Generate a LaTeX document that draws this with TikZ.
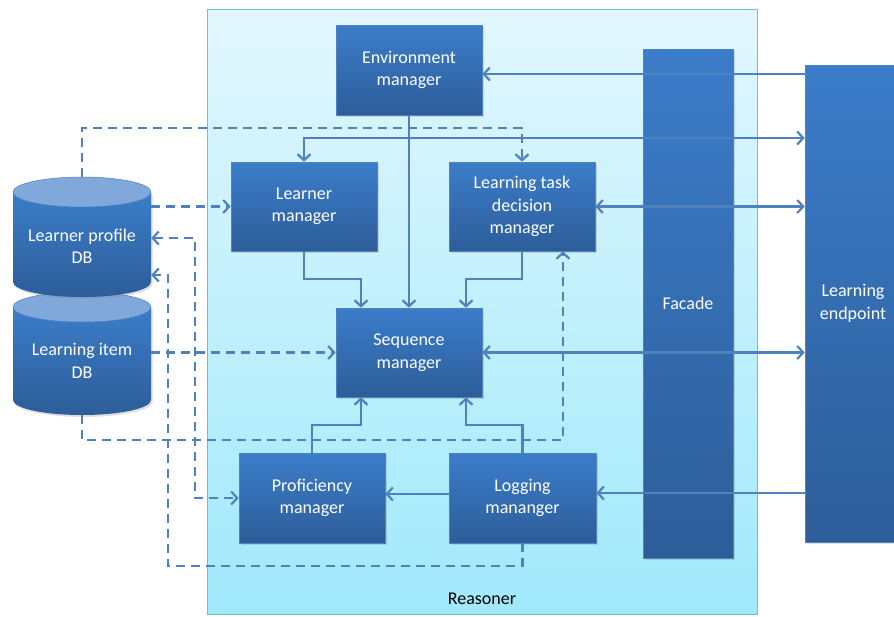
\documentclass[tikz,border=0pt]{standalone}
\usepackage{fontspec}
\setmainfont{Carlito}
\usetikzlibrary{arrows.meta,shadows}
\definecolor{boxtop}{RGB}{59,125,202}
\definecolor{boxbot}{RGB}{45,93,153}
\definecolor{boxedge}{RGB}{80,130,190}
\definecolor{ln}{RGB}{79,129,189}
\definecolor{rtop}{RGB}{226,247,253}
\definecolor{rbot}{RGB}{160,233,252}
\definecolor{redge}{RGB}{110,190,210}
\definecolor{captop}{RGB}{128,168,218}
\begin{document}
\begin{tikzpicture}[x=1pt,y=-1pt,
  >={Straight Barb[length=6pt,width=13pt]},
  box/.style={rectangle, top color=boxtop, bottom color=boxbot, draw=boxedge, line width=0.6pt,
    text=white, align=center, font=\fontsize{18}{22.5}\selectfont, inner sep=0pt,
    drop shadow={shadow xshift=1.5pt, shadow yshift=-2pt, opacity=0.25}},
  dbtext/.style={text=white, align=center, font=\fontsize{18}{22.5}\selectfont, inner sep=0pt, minimum width=138pt},
  dbbody/.style={top color=boxtop, bottom color=boxbot, drop shadow={shadow xshift=1.5pt, shadow yshift=-2pt, opacity=0.25}},
  dbcap/.style={fill=captop, draw=boxedge, line width=0.5pt},
  conn/.style={draw=ln, line width=2.2pt},
  dconn/.style={conn, dash pattern=on 9pt off 6pt}
]
\useasboundingbox (0,0) rectangle (894,616);
\clip (0,0) rectangle (894,616);

% Reasoner container
\node[draw=redge, line width=1.2pt, top color=rtop, bottom color=rbot,
  minimum width=550pt, minimum height=605pt, inner sep=0pt, anchor=north west] (reasoner) at (207,9) {};
\node[font=\fontsize{18}{22.5}\selectfont, text=black] (rlabel) at (482,599) {Reasoner};

% Learning item DB (drawn first)
\path[dbbody] (13,307) -- (13,400) arc[start angle=180,end angle=360,x radius=69pt,y radius=15pt] -- (151,307) -- cycle;
\path[dbcap] (82,307) ellipse[x radius=69pt, y radius=15pt];
% Learner profile DB
\path[dbbody] (13,192) -- (13,282) arc[start angle=180,end angle=360,x radius=69pt,y radius=15pt] -- (151,192) -- cycle;
\path[dbcap] (82,192) ellipse[x radius=69pt, y radius=15pt];

\node[dbtext, minimum height=138pt] (lpdb) at (82,246) {Learner profile\\DB};
\node[dbtext, minimum height=108pt] (lidb) at (82,361) {Learning item\\DB};

% Managers
\node[box, minimum width=146pt, minimum height=90pt] (env) at (409,70) {Environment\\manager};
\node[box, minimum width=146pt, minimum height=89pt] (lm) at (304,206.5) {Learner\\manager};
\node[box, minimum width=146pt, minimum height=89pt] (ltd) at (522,206.5) {Learning task\\decision\\manager};
\node[box, minimum width=146pt, minimum height=89pt] (seq) at (409,352.5) {Sequence\\manager};
\node[box, minimum width=146pt, minimum height=90pt] (prof) at (312,498) {Proficiency\\manager};
\node[box, minimum width=147pt, minimum height=90pt] (log) at (522.5,498) {Logging\\mananger};

\node[box, minimum width=90pt, minimum height=509pt] (facade) at (688,303.5) {Facade};
\node[box, minimum width=96pt, minimum height=477pt] (endpoint) at (853,303.5) {Learning\\endpoint};

\coordinate (ltdin) at ([xshift=41pt]ltd.south);

% Solid connectors
\draw[conn,->] (endpoint.west |- 0,74) -- (env.east |- 0,74);
\draw[conn,<->] (lm.north) |- (endpoint.west |- 0,138);
\draw[conn,->] (env.south) -- (seq.north);
\draw[conn,->] (lm.south) -- (lm.south |- 0,279) -| ([xshift=-48pt]seq.north);
\draw[conn,->] (ltd.south) -- (ltd.south |- 0,279) -| ([xshift=57pt]seq.north);
\draw[conn,<->] (ltd.east) -- (endpoint.west |- ltd.east);
\draw[conn,<->] (seq.east) -- (endpoint.west |- seq.east);
\draw[conn,->] (endpoint.west |- 0,493) -- (log.east |- 0,493);
\draw[conn,->] (log.west |- 0,494) -- (prof.east |- 0,494);
\draw[conn,->] (prof.north) -- (prof.north |- 0,425) -| ([xshift=-48pt]seq.south);
\draw[conn,->] (log.north) -- (log.north |- 0,425) -| ([xshift=57pt]seq.south);

% Dashed connectors
\draw[dconn,->] (lpdb.north) |- (ltd.north |- 0,128) -- (ltd.north);
\draw[dconn,->] (lpdb.east |- lm.west) -- (lm.west);
\draw[dconn,<->] (lpdb.east |- 0,238) -| (prof.west -| 195,0) -- (prof.west);
\draw[dconn,->] (log.south) |- (168,566) |- (lpdb.east |- 0,275);
\draw[dconn,->] (lidb.east |- seq.west) -- (seq.west);
\draw[dconn,->] (lidb.south) |- (ltdin |- 0,440) -- (ltdin);
\end{tikzpicture}
\end{document}
